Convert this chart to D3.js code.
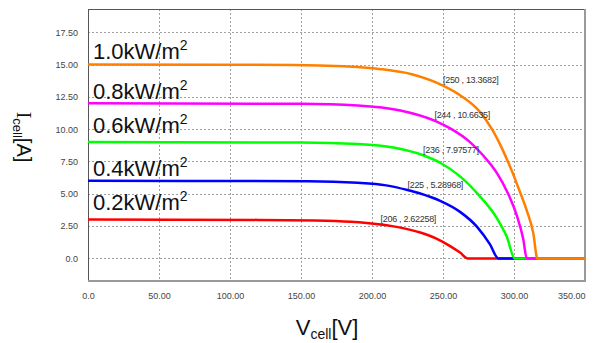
<!DOCTYPE html>
<html>
<head>
<meta charset="utf-8">
<script src="https://cdn.jsdelivr.net/npm/d3@7"></script>
<style>
  html, body { margin: 0; padding: 0; background: #fff; }
  svg { display: block; font-family: "Liberation Sans", Arial, sans-serif; }
</style>
</head>
<body>
<div id="chart"></div>
<script>
// irradiance levels (labels)
const levels = ['0.2', '0.4', '0.6', '0.8', '1.0'];
const colors = ['#ff0000', '#0000ff', '#00ff00', '#ff00ff', '#ff8000'];

// voltage / current pairs
const v02 = [0, 120, 160, 185, 206, 220, 234, 245, 255, 262, 267.5, 350];
const i02 = [3.0, 2.98, 2.94, 2.84, 2.62, 2.38, 2.0, 1.55, 0.95, 0.45, 0, 0];
const v04 = [0, 155, 190, 210, 225, 234, 248, 262, 274, 283, 289, 350];
const i04 = [6.0, 5.97, 5.85, 5.65, 5.29, 5.02, 4.45, 3.6, 2.44, 1.1, 0, 0];
const v06 = [0, 150, 190, 215, 236, 248, 262, 276, 288, 295, 300.5, 350];
const i06 = [9.0, 8.97, 8.85, 8.58, 7.98, 7.4, 6.35, 4.8, 3.1, 1.65, 0, 0];
const v08 = [0, 150, 190, 220, 244, 256, 269, 278, 288, 295, 302, 306.5, 309, 350];
const i08 = [12.0, 11.97, 11.84, 11.45, 10.66, 10.0, 9.0, 8.0, 6.6, 5.2, 3.3, 1.5, 0, 0];
const v10 = [0, 145, 180, 205, 228, 250, 262, 276, 285, 292, 298, 304, 309, 313.5, 316.5, 350];
const i10 = [15.0, 14.97, 14.86, 14.66, 14.25, 13.37, 12.63, 11.34, 9.9, 8.4, 6.9, 5.2, 3.7, 2.0, 0, 0];

// maximum power points
const mppV = [206, 225, 236, 244, 250];
const mppI = [2.62258, 5.28968, 7.97577, 10.6635, 13.3682];

const xTicks = [0, 50, 100, 150, 200, 250, 300, 350];
const yTicks = [0, 2.5, 5, 7.5, 10, 12.5, 15, 17.5];

const voltages = [v02, v04, v06, v08, v10];
const currents = [i02, i04, i06, i08, i10];

const width = 594;
const height = 343;
const margin = { left: 88, right: 9, top: 9, bottom: 62 };
const labelDy = [-9.5, -4.7, -8.6, -4.4, -6];

const svg = d3.select('#chart').append('svg')
  .attr('width', width)
  .attr('height', height);

const xScale = d3.scaleLinear()
  .domain([0, 350])
  .range([margin.left, width - margin.right]);
const yScale = d3.scaleLinear()
  .domain([-1.75, 19.3])
  .range([height - margin.bottom, margin.top]);

const fmt = d => d === 0 ? '0.0' : d3.format('.2f')(d);

// grid
svg.append('g')
  .selectAll('line')
  .data(xTicks.filter(d => d > 0 && d < 350))
  .join('line')
  .attr('x1', d => xScale(d) + 0.5).attr('x2', d => xScale(d) + 0.5)
  .attr('y1', margin.top).attr('y2', height - margin.bottom)
  .attr('stroke', '#a0a0a0')
  .attr('stroke-dasharray', '2,2');
svg.append('g')
  .selectAll('line')
  .data(yTicks)
  .join('line')
  .attr('x1', margin.left).attr('x2', width - margin.right)
  .attr('y1', d => Math.round(yScale(d)) + 0.5).attr('y2', d => Math.round(yScale(d)) + 0.5)
  .attr('stroke', '#a0a0a0')
  .attr('stroke-dasharray', '2,2');

// frame
svg.append('rect')
  .attr('x', margin.left + 0.5)
  .attr('y', margin.top + 0.5)
  .attr('width', width - margin.left - margin.right - 1)
  .attr('height', height - margin.top - margin.bottom - 1)
  .attr('fill', 'none')
  .attr('stroke', '#555');
svg.append('path')
  .attr('d', `M${width - margin.right},${margin.top} V${height - margin.bottom} H${margin.left}`)
  .attr('fill', 'none')
  .attr('stroke', '#999')
  .attr('stroke-width', 2);

// axes
const xAxis = svg.append('g')
  .attr('transform', `translate(0, ${height - margin.bottom})`)
  .call(d3.axisBottom(xScale).tickValues(xTicks).tickFormat(fmt).tickSize(0).tickPadding(12));
const yAxis = svg.append('g')
  .attr('transform', `translate(${margin.left}, 0)`)
  .call(d3.axisLeft(yScale).tickValues(yTicks).tickFormat(fmt).tickSize(0).tickPadding(10));
[xAxis, yAxis].forEach(ax => {
  ax.select('.domain').remove();
  ax.selectAll('text')
    .attr('fill', '#444')
    .style('font-size', '9px')
    .style('font-family', '"Liberation Sans", Arial, sans-serif');
});
// last x label is pulled inside the frame
xAxis.selectAll('.tick')
  .filter(d => d === 350)
  .select('text')
  .attr('text-anchor', 'end')
  .attr('x', 0);

// curves
const line = d3.line()
  .x(d => xScale(d[0]))
  .y(d => yScale(d[1]))
  .curve(d3.curveMonotoneX);

voltages.forEach((vs, k) => {
  const pts = vs.map((v, j) => [v, currents[k][j]]);
  svg.append('path')
    .datum(pts)
    .attr('fill', 'none')
    .attr('stroke', colors[k])
    .attr('stroke-width', 2.5)
    .attr('d', line);
});

// mpp annotations
mppV.forEach((v, k) => {
  svg.append('text')
    .attr('x', xScale(v))
    .attr('y', yScale(mppI[k]) - 2.5)
    .attr('fill', '#333')
    .style('font-size', '9px')
    .style('letter-spacing', '-0.3px')
    .text(`[${v} , ${mppI[k]}]`);
});

// irradiance labels
levels.forEach((lv, k) => {
  const t = svg.append('text')
    .attr('x', 93)
    .attr('y', yScale(currents[k][0]) + labelDy[k])
    .attr('fill', '#111')
    .style('font-size', '22px');
  t.append('tspan').text(`${lv}kW/m`);
  t.append('tspan').attr('dy', -9).style('font-size', '14px').text('2');
});

// axis titles
const xt = svg.append('text')
  .attr('x', 327)
  .attr('y', 335)
  .attr('text-anchor', 'middle')
  .attr('fill', '#111')
  .style('font-size', '22px');
xt.append('tspan').text('V');
xt.append('tspan').attr('dy', 4).style('font-size', '14px').text('cell');
xt.append('tspan').attr('dy', -4).text('[V]');

const yt = svg.append('text')
  .attr('transform', 'translate(17, 137) rotate(90)')
  .attr('text-anchor', 'middle')
  .attr('fill', '#111')
  .style('font-size', '20px');
yt.append('tspan').style('font-family', '"Liberation Serif", serif').text('I');
yt.append('tspan').attr('dy', 4).style('font-size', '13px').text('cell');
yt.append('tspan').attr('dy', -4).text('[A]');
</script>
</body>
</html>
